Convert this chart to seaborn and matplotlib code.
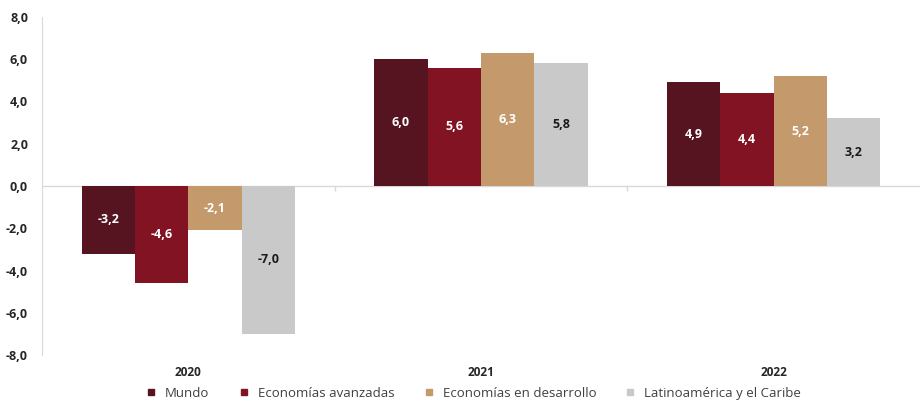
import matplotlib
matplotlib.use("Agg")
import matplotlib.pyplot as plt
import pandas as pd
import seaborn as sns

# Data
years = ["2020", "2021", "2022"]
series = ["Mundo", "Economías avanzadas", "Economías en desarrollo", "Latinoamérica y el Caribe"]
mundo = [-3.2, 6.0, 4.9]
avanzadas = [-4.6, 5.6, 4.4]
desarrollo = [-2.1, 6.3, 5.2]
latam = [-7.0, 5.8, 3.2]

colors = ["#561420", "#821323", "#C49A6C", "#C9C9C9"]
label_colors = ["white", "white", "white", "#1a1a1a"]

rows = []
for name, vals in zip(series, [mundo, avanzadas, desarrollo, latam]):
    for y, v in zip(years, vals):
        rows.append({"Año": y, "Serie": name, "Valor": v})
df = pd.DataFrame(rows)

sns.set_style("white")
plt.rcParams["font.family"] = ["Open Sans", "DejaVu Sans"]

fig = plt.figure(figsize=(9.21, 4.03), dpi=100)
ax = fig.add_axes([42 / 921, 48 / 403, 878 / 921, 338 / 403])

sns.barplot(data=df, x="Año", y="Valor", hue="Serie", palette=colors,
            width=0.73, ax=ax, legend=False, saturation=1, linewidth=0)

# Value labels centered in bars
for cont, lc in zip(ax.containers, label_colors):
    labels = [f"{v:.1f}".replace(".", ",") for v in cont.datavalues]
    ax.bar_label(cont, labels=labels, label_type="center", color=lc,
                 fontsize=9, fontweight="bold")

ax.set_ylim(-8, 8)
ax.set_xlim(-0.5, len(years) - 0.5)
ax.set_yticks(range(-8, 9, 2))
ax.set_yticklabels([f"{t:.1f}".replace(".", ",") for t in range(-8, 9, 2)],
                   fontsize=9, fontweight="bold", color="#262626")
ax.set_xlabel("")
ax.set_ylabel("")

for s in ["top", "right", "bottom"]:
    ax.spines[s].set_visible(False)
ax.spines["left"].set_color("#D9D9D9")
ax.tick_params(axis="y", length=4, color="#D9D9D9", pad=6)
ax.tick_params(axis="x", length=0, pad=8)
for lab in ax.get_xticklabels():
    lab.set_fontsize(8.5)
    lab.set_fontweight("bold")
    lab.set_color("#262626")

# zero line with category separators
ax.axhline(0, color="#D9D9D9", lw=1, zorder=0)
ax.vlines([i + 0.5 for i in range(len(years) - 1)], -0.25, 0, color="#D9D9D9", lw=1)

# Legend
handles = [plt.Line2D([], [], marker="s", ls="", color=c, markersize=5) for c in colors]
fig.legend(handles, series, loc="lower center", bbox_to_anchor=(0.51, -0.022), ncol=4,
           frameon=False, fontsize=9.5, handletextpad=0.05, columnspacing=1.6,
           labelcolor="#404040")

fig.savefig("out.png", dpi=100)
